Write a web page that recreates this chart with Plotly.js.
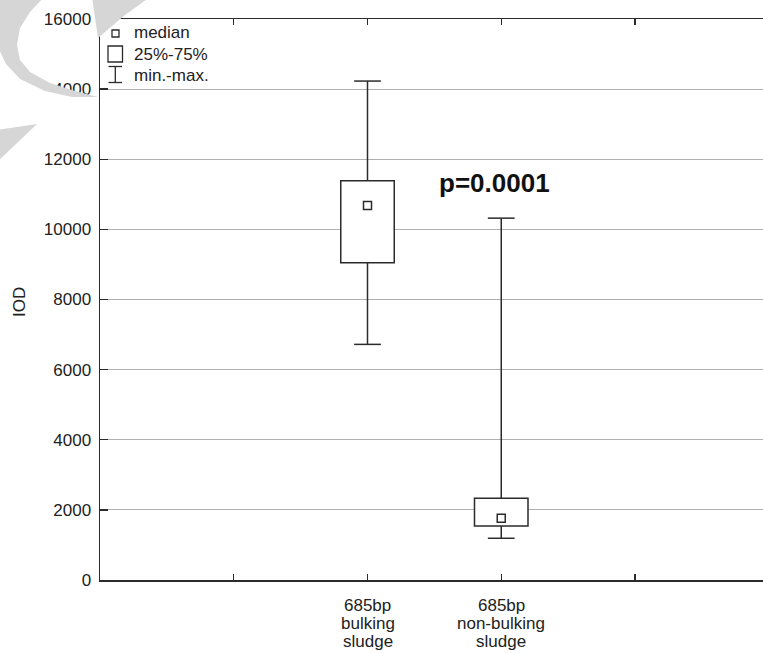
<!DOCTYPE html>
<html>
<head>
<meta charset="utf-8">
<script src="https://cdn.plot.ly/plotly-3.0.1.min.js"></script>
<style>html,body{margin:0;padding:0;background:#fff;}#chart{width:763px;height:653px;}</style>
</head>
<body>
<div id="chart"></div>
<script>
// ---- data ----
const categories = ["685bp<br>bulking<br>sludge", "685bp<br>non-bulking<br>sludge"];
const catPos = [2, 3];
const medianVals = [10680, 1760];
const q1Vals = [9050, 1540];
const q3Vals = [11390, 2330];
const minVals = [6720, 1190];
const maxVals = [14230, 10320];
const yTicks = [0, 2000, 4000, 6000, 8000, 10000, 12000, 14000, 16000];
const xTicks = [0, 1, 2, 3, 4, 5];
const pLabel = "p=0.0001";
const pPos = {x: 2.95, y: 11330};
const legendLabels = ["median", "25%-75%", "min.-max."];
const yTitle = "IOD";

// ---- styles ----
const ink = "#2b2b2b";
const boxHalf = 0.2, capHalf = 0.1;
const FONT = "Liberation Sans, Arial, Helvetica, sans-serif";

// pixel helpers for paper coords (plot area: x 100..763, y 19..580)
const L = 100, T = 19, W = 663, H = 561;
const px = v => (v - L) / W;
const py = v => 1 - (v - T) / H;

const shapes = [];

// ---- decorative watermark (top-left), pixel-based ----
function polyPath(pts) {
  return "M" + pts.map(p => px(p[0]).toFixed(5) + "," + py(p[1]).toFixed(5)).join("L") + "Z";
}
const wmGray = "#d6d6d6";
const wm = (pts, col) => shapes.push({type: "path", xref: "paper", yref: "paper", layer: "above",
  path: polyPath(pts), fillcolor: col, line: {width: 0}});
// white band hiding part of the 14000 label
wm([[18, 80], [45, 90], [72, 96], [98, 97], [72, 103], [40, 101], [12, 90]], "#ffffff");
// gray C band
wm([[-3, -3], [44, -3], [30, 12], [20, 28], [17, 45], [20, 60], [30, 72], [50, 83], [75, 91], [98, 97],
    [72, 97], [45, 91], [20, 79], [6, 64], [-3, 45]], wmGray);
// upper tip
wm([[92, -3], [150, -3], [125, 15], [98, 38]], wmGray);
// lower-left wedge
wm([[-3, 130], [37, 124], [-3, 162]], wmGray);

catPos.forEach((c, i) => {
  const ln = {color: ink, width: 1.5};
  // whiskers
  shapes.push({type: "line", xref: "x", yref: "y", x0: c, x1: c, y0: q3Vals[i], y1: maxVals[i], line: ln, layer: "between"});
  shapes.push({type: "line", xref: "x", yref: "y", x0: c, x1: c, y0: q1Vals[i], y1: minVals[i], line: ln, layer: "between"});
  shapes.push({type: "line", xref: "x", yref: "y", x0: c - capHalf, x1: c + capHalf, y0: maxVals[i], y1: maxVals[i], line: ln, layer: "between"});
  shapes.push({type: "line", xref: "x", yref: "y", x0: c - capHalf, x1: c + capHalf, y0: minVals[i], y1: minVals[i], line: ln, layer: "between"});
  // box
  shapes.push({type: "rect", xref: "x", yref: "y", x0: c - boxHalf, x1: c + boxHalf, y0: q1Vals[i], y1: q3Vals[i],
               fillcolor: "#fff", line: ln, layer: "between"});
});

// legend symbols (paper coords)
const lg = {color: ink, width: 1.3};
shapes.push({type: "rect", xref: "paper", yref: "paper", x0: px(112), x1: px(119), y0: py(37), y1: py(30), line: lg});
shapes.push({type: "rect", xref: "paper", yref: "paper", x0: px(108), x1: px(122.5), y0: py(62), y1: py(46), line: lg});
shapes.push({type: "line", xref: "paper", yref: "paper", x0: px(115.3), x1: px(115.3), y0: py(82.5), y1: py(66.5), line: lg});
shapes.push({type: "line", xref: "paper", yref: "paper", x0: px(108.5), x1: px(122), y0: py(66.5), y1: py(66.5), line: lg});
shapes.push({type: "line", xref: "paper", yref: "paper", x0: px(108.5), x1: px(122), y0: py(82.5), y1: py(82.5), line: lg});

const annotations = [];
// legend texts
const legY = [32, 54.5, 75.5];
legendLabels.forEach((t, i) => {
  annotations.push({xref: "paper", yref: "paper", x: px(132), y: py(legY[i]), text: t, showarrow: false,
    xanchor: "left", yanchor: "middle", font: {family: FONT, size: 17, color: "#222"}});
});
// category labels, line by line
catPos.forEach((c, i) => {
  categories[i].split("<br>").forEach((line, j) => {
    annotations.push({xref: "x", yref: "paper", x: c, y: 0, yshift: -(25 + 18 * j), text: line, showarrow: false,
      xanchor: "center", yanchor: "middle", font: {family: FONT, size: 17, color: "#222"}});
  });
});
// p value
annotations.push({xref: "x", yref: "y", x: pPos.x, y: pPos.y, text: "<b>" + pLabel + "</b>", showarrow: false,
  xanchor: "center", yanchor: "middle", font: {family: FONT, size: 26, color: "#111"}});
// y title
annotations.push({xref: "paper", yref: "paper", x: px(19), y: py(302), text: yTitle, textangle: -90, showarrow: false,
  xanchor: "center", yanchor: "middle", font: {family: FONT, size: 17, color: "#222"}});

const traces = [{
  type: "scatter", mode: "markers", x: catPos, y: medianVals,
  marker: {symbol: "square-open", size: 8, color: ink, line: {width: 1.5, color: ink}},
  hoverinfo: "y", showlegend: false
}];

const layout = {
  width: 763, height: 653,
  margin: {l: L, r: 763 - L - W, t: T, b: 653 - T - H, pad: 0},
  paper_bgcolor: "#fff", plot_bgcolor: "#fff",
  showlegend: false,
  font: {family: FONT, size: 17, color: "#222"},
  xaxis: {
    range: [0, W / 133.75], tickvals: xTicks, showticklabels: false,
    ticks: "inside", ticklen: 6, tickcolor: ink, tickwidth: 1.3,
    showline: true, linecolor: ink, linewidth: 1.5, mirror: "ticks",
    showgrid: false, zeroline: false, fixedrange: true
  },
  yaxis: {
    range: [0, 16000], tickvals: yTicks, ticktext: yTicks.map(String),
    ticks: "inside", ticklen: 8, tickcolor: ink, tickwidth: 1.3,
    ticklabelstandoff: 4,
    showline: true, linecolor: ink, linewidth: 1.5,
    showgrid: true, gridcolor: "#b0b0b0", gridwidth: 1,
    zeroline: false, fixedrange: true,
    tickfont: {family: FONT, size: 17, color: "#222"}
  },
  shapes: shapes,
  annotations: annotations
};

Plotly.newPlot("chart", traces, layout, {displayModeBar: false, staticPlot: true});
</script>
</body>
</html>
